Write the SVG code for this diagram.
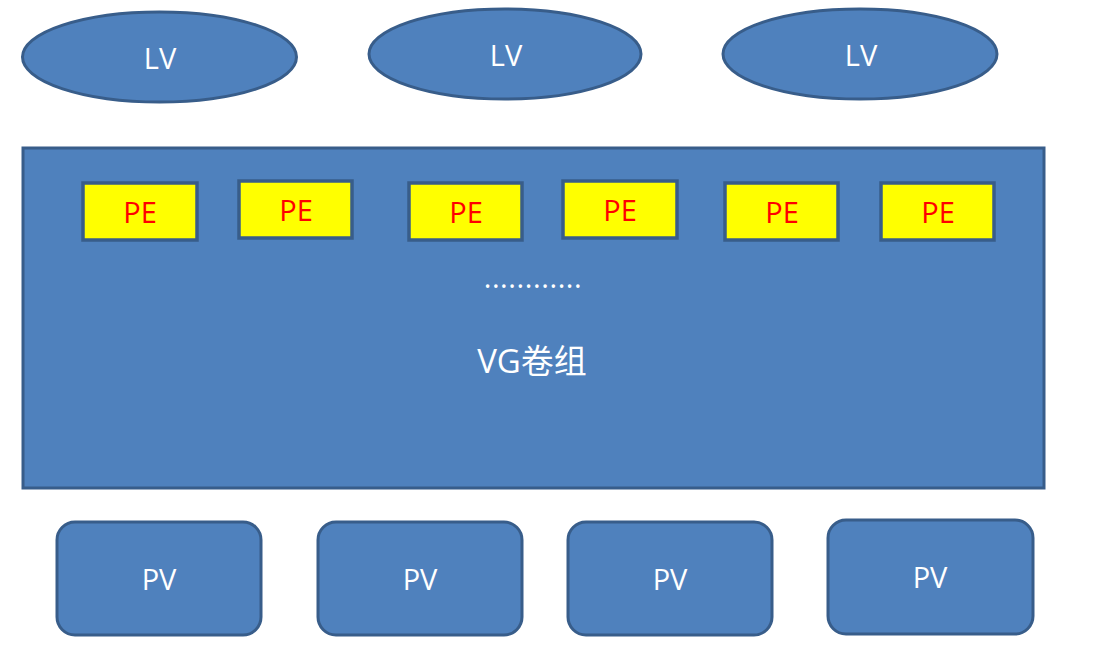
<svg xmlns="http://www.w3.org/2000/svg" width="1102" height="657" viewBox="0 0 1102 657">
<style>
.shape{fill:#4F81BD;stroke:#385D8A;stroke-width:3}
.pe{fill:#FFFF00;stroke:#385D8A;stroke-width:3.5}
.wt{fill:#FFFFFF;font-family:"Open Sans","Noto Sans","Noto Sans CJK SC",sans-serif;font-size:29px;text-anchor:middle}
.rt{fill:#FF0000;font-family:"Open Sans","Noto Sans",sans-serif;font-size:29px;text-anchor:middle}
</style>
<rect width="1102" height="657" fill="#FFFFFF"/>
<g id="lv1"><ellipse class="shape" cx="159.5" cy="57" rx="137" ry="45"/><text class="wt" x="160" y="69">LV</text></g>
<g id="lv2"><ellipse class="shape" cx="505" cy="54" rx="136" ry="45"/><text class="wt" x="506" y="66">LV</text></g>
<g id="lv3"><ellipse class="shape" cx="860" cy="54" rx="137" ry="45"/><text class="wt" x="861" y="66">LV</text></g>
<g id="vg"><rect class="shape" x="23" y="148" width="1021" height="340"/>
<text class="wt" x="533" y="288" style="letter-spacing:0.6px">............</text>
<text class="wt" x="532" y="373" style="font-size:33px">VG卷组</text></g>
<g id="pe1"><rect class="pe" x="83" y="183" width="114" height="57"/><text class="rt" x="140" y="223">PE</text></g>
<g id="pe2"><rect class="pe" x="239" y="181" width="113" height="57"/><text class="rt" x="296" y="221">PE</text></g>
<g id="pe3"><rect class="pe" x="409" y="183" width="113" height="57"/><text class="rt" x="466" y="223">PE</text></g>
<g id="pe4"><rect class="pe" x="563" y="181" width="114" height="57"/><text class="rt" x="620" y="221">PE</text></g>
<g id="pe5"><rect class="pe" x="725" y="183" width="113" height="57"/><text class="rt" x="782" y="223">PE</text></g>
<g id="pe6"><rect class="pe" x="881" y="183" width="113" height="57"/><text class="rt" x="938" y="223">PE</text></g>
<g id="pv1"><rect class="shape" x="57" y="522" width="204" height="113" rx="18"/><text class="wt" x="159" y="590">PV</text></g>
<g id="pv2"><rect class="shape" x="318" y="522" width="204" height="113" rx="18"/><text class="wt" x="420" y="590">PV</text></g>
<g id="pv3"><rect class="shape" x="568" y="522" width="204" height="113" rx="18"/><text class="wt" x="670" y="590">PV</text></g>
<g id="pv4"><rect class="shape" x="828" y="520" width="205" height="114" rx="18"/><text class="wt" x="930" y="588">PV</text></g>
<g id="connectors"></g>
</svg>
